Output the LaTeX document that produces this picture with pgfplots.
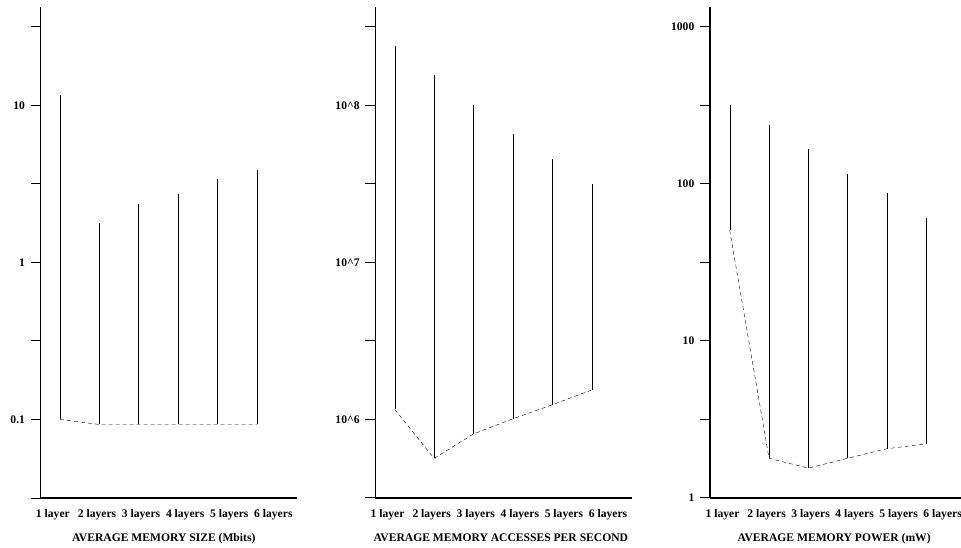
\documentclass[border=0pt]{standalone}
\usepackage{fontspec}
\setmainfont{Liberation Serif}
\usepackage{pgfplots}
\pgfplotsset{compat=1.18}
\pgfplotsset{
 every axis/.append style={
  scale only axis, height=491.3pt,
  axis x line=bottom, axis y line=left,
  axis line style={-, line width=1.1pt, black},
  tick align=outside,
  major tick length=10pt,
  ytick style={line width=1pt, black},
  xtick style={draw=none},
  yminorticks=false,
  xtick={0.82,1.939,3.058,4.177,5.296,6.415},
  xticklabels={1 layer,2 layers,3 layers,4 layers,5 layers,6 layers},
  tick label style={font=\fontsize{11.6}{13}\selectfont\bfseries},
  xticklabel style={anchor=base, yshift=-10pt, inner sep=0pt},
  yticklabel style={anchor=east, inner sep=0pt, xshift=-5.5pt},
  label style={font=\fontsize{11.6}{13}\selectfont\bfseries},
  xlabel style={anchor=base, yshift=-43.5pt, inner sep=0pt},
  clip=false,
  cycle list={{black,solid,line width=0.9pt,no markers}},
 },
}
\begin{document}
\begin{tikzpicture}
\path[use as bounding box] (0,0) rectangle (961pt,548pt);
% Panel 1
\begin{axis}[ymode=log, at={(40.7pt,50pt)}, anchor=south west, width=256pt,
  xmin=0.5102, xmax=7.0077, ymin=0.0316228, ymax=42.46,
  ytick={0.0316228,0.1,0.316228,1,3.16228,10,31.6228},
  yticklabels={,0.1,,1,,10,},
  xlabel={AVERAGE MEMORY SIZE (Mbits)},
  xlabel style={at={(axis description cs:0.4805,0)}}]
\addplot coordinates {(1,0.1) (1,11.6)};
\addplot coordinates {(2,0.0929) (2,1.77)};
\addplot coordinates {(3,0.0929) (3,2.37)};
\addplot coordinates {(4,0.0929) (4,2.74)};
\addplot coordinates {(5,0.0929) (5,3.39)};
\addplot coordinates {(6,0.0929) (6,3.89)};
\addplot[dash pattern=on 4pt off 3pt] coordinates {(1,0.1) (2,0.0929) (3,0.0929) (4,0.0929) (5,0.0929) (6,0.0929)};
\end{axis}
% Panel 2
\begin{axis}[ymode=log, at={(375.3pt,50pt)}, anchor=south west, width=256.4pt,
  xmin=0.5076, xmax=7.015, ymin=316228, ymax=4.246e8,
  ytick={316228,1e6,3162278,1e7,31622777,1e8,316227766},
  yticklabels={,10\textasciicircum6,,10\textasciicircum7,,10\textasciicircum8,},
  xlabel={AVERAGE MEMORY ACCESSES PER SECOND},
  xlabel style={at={(axis description cs:0.4895,0)}}]
\addplot coordinates {(1,1.16e6) (1,2.38e8)};
\addplot coordinates {(2,5.65e5) (2,1.55e8)};
\addplot coordinates {(3,8.09e5) (3,1.0e8)};
\addplot coordinates {(4,1.01e6) (4,6.53e7)};
\addplot coordinates {(5,1.24e6) (5,4.53e7)};
\addplot coordinates {(6,1.54e6) (6,3.16e7)};
\addplot[dash pattern=on 4pt off 3pt] coordinates {(1,1.16e6) (2,5.65e5) (3,8.09e5) (4,1.01e6) (5,1.24e6) (6,1.54e6)};
\end{axis}
% Panel 3
\begin{axis}[ymode=log, at={(710pt,50pt)}, anchor=south west, width=251pt,
  xmin=0.499, xmax=6.882, ymin=1, ymax=1342,
  ytick={1,3.16228,10,31.6228,100,316.228,1000},
  yticklabels={1,,10,,100,,1000},
  xlabel={AVERAGE MEMORY POWER (mW)},
  xlabel style={at={(axis description cs:0.4948,0)}}]
\addplot coordinates {(1,50.7) (1,316)};
\addplot coordinates {(2,1.79) (2,237)};
\addplot coordinates {(3,1.55) (3,166)};
\addplot coordinates {(4,1.79) (4,115)};
\addplot coordinates {(5,2.06) (5,86.9)};
\addplot coordinates {(6,2.21) (6,60.3)};
\addplot[dash pattern=on 4pt off 3pt] coordinates {(1,50.7) (2,1.79) (3,1.55) (4,1.79) (5,2.06) (6,2.21)};
\end{axis}
\end{tikzpicture}
\end{document}
